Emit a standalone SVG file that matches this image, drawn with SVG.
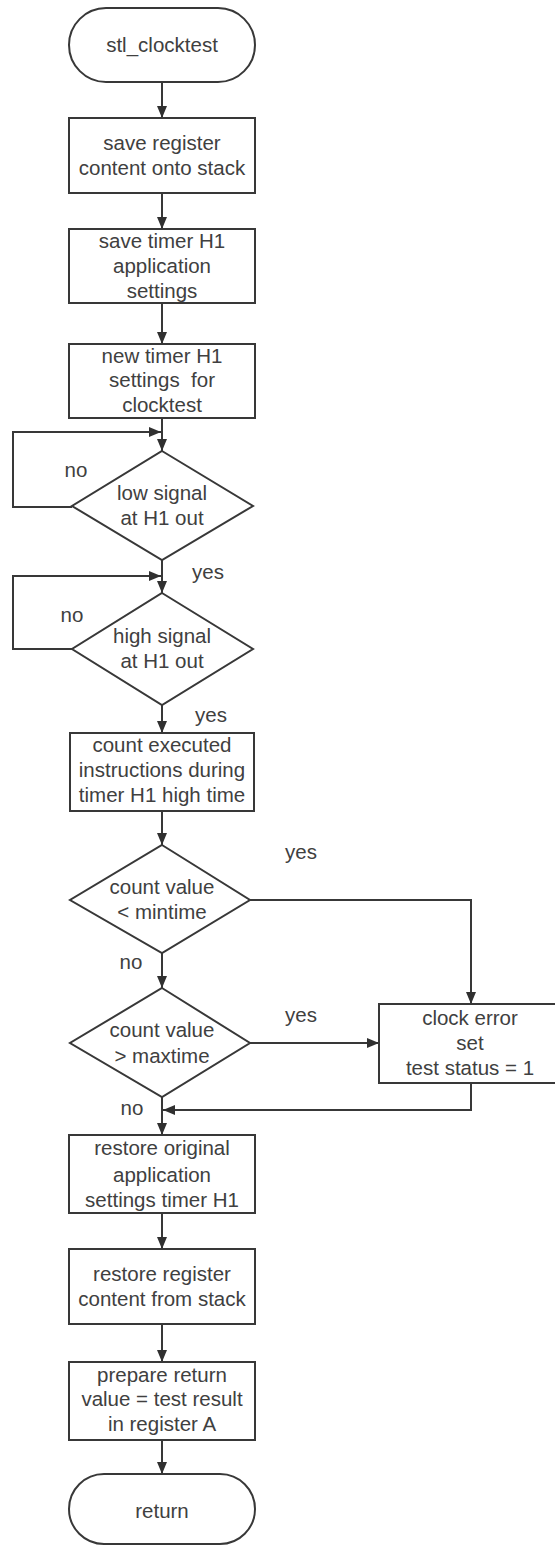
<svg xmlns="http://www.w3.org/2000/svg" width="555" height="1546" viewBox="0 0 555 1546">
<style>
.s{fill:#fff;stroke:#383838;stroke-width:2}
.c{fill:none;stroke:#383838;stroke-width:2}
text{font-family:"Liberation Sans",Arial,sans-serif;font-size:20.5px;fill:#404040;text-anchor:middle}
</style>
<defs>
<marker id="a" markerUnits="userSpaceOnUse" markerWidth="13" markerHeight="11" refX="12" refY="5" orient="auto">
<path d="M0,0 L12,5 L0,10 z" fill="#303030"/>
</marker>
</defs>
<rect width="555" height="1546" fill="#fff"/>
<g id="connectors">
<line class="c" x1="162" y1="82" x2="162" y2="118" marker-end="url(#a)"/>
<line class="c" x1="162" y1="193" x2="162" y2="229" marker-end="url(#a)"/>
<line class="c" x1="162" y1="303" x2="162" y2="344" marker-end="url(#a)"/>
<line class="c" x1="162" y1="418" x2="162" y2="451" marker-end="url(#a)"/>
<polyline class="c" points="72,507 13,507 13,432 161,432" marker-end="url(#a)"/>
<line class="c" x1="162" y1="560" x2="162" y2="593" marker-end="url(#a)"/>
<polyline class="c" points="72,649 13,649 13,576 161,576" marker-end="url(#a)"/>
<line class="c" x1="162" y1="705" x2="162" y2="733" marker-end="url(#a)"/>
<line class="c" x1="162" y1="811" x2="162" y2="845" marker-end="url(#a)"/>
<line class="c" x1="162" y1="953" x2="162" y2="988" marker-end="url(#a)"/>
<polyline class="c" points="250,900 471,900 471,1004" marker-end="url(#a)"/>
<line class="c" x1="250" y1="1043" x2="379" y2="1043" marker-end="url(#a)"/>
<polyline class="c" points="471,1083 471,1110 163,1110" marker-end="url(#a)"/>
<line class="c" x1="162" y1="1097" x2="162" y2="1135" marker-end="url(#a)"/>
<line class="c" x1="162" y1="1213" x2="162" y2="1249" marker-end="url(#a)"/>
<line class="c" x1="162" y1="1324" x2="162" y2="1362" marker-end="url(#a)"/>
<line class="c" x1="162" y1="1440" x2="162" y2="1474" marker-end="url(#a)"/>
</g>
<g id="start">
<rect class="s" x="69" y="8" width="186" height="74" rx="37"/>
<text x="162" y="52">stl_clocktest</text>
</g>
<g id="save-register">
<rect class="s" x="69" y="118" width="186" height="75"/>
<text x="162" y="150">save register</text>
<text x="162" y="175">content onto stack</text>
</g>
<g id="save-timer">
<rect class="s" x="69" y="229" width="186" height="74"/>
<text x="162" y="248">save timer H1</text>
<text x="162" y="273">application</text>
<text x="162" y="298">settings</text>
</g>
<g id="new-timer">
<rect class="s" x="69" y="344" width="186" height="74"/>
<text x="162" y="363">new timer H1</text>
<text x="162" y="387" xml:space="preserve">settings  for</text>
<text x="162" y="412">clocktest</text>
</g>
<g id="low-signal">
<polygon class="s" points="162,451 253,506 162,560 72,506"/>
<text x="162" y="500">low signal</text>
<text x="162" y="525">at H1 out</text>
</g>
<g id="high-signal">
<polygon class="s" points="162,593 253,649 162,705 72,649"/>
<text x="162" y="643">high signal</text>
<text x="162" y="668">at H1 out</text>
</g>
<g id="count-instr">
<rect class="s" x="70" y="733" width="184" height="78"/>
<text x="162" y="752">count executed</text>
<text x="162" y="777">instructions during</text>
<text x="162" y="802">timer H1 high time</text>
</g>
<g id="mintime">
<polygon class="s" points="162,845 250,900 162,953 70,900"/>
<text x="162" y="894">count value</text>
<text x="162" y="919">&lt; mintime</text>
</g>
<g id="maxtime">
<polygon class="s" points="162,988 250,1043 162,1097 70,1043"/>
<text x="162" y="1037">count value</text>
<text x="162" y="1063">&gt; maxtime</text>
</g>
<g id="clock-error">
<rect class="s" x="379" y="1004" width="184" height="79"/>
<text x="470" y="1025">clock error</text>
<text x="470" y="1050">set</text>
<text x="470" y="1075">test status = 1</text>
</g>
<g id="restore-settings">
<rect class="s" x="69" y="1135" width="186" height="78"/>
<text x="162" y="1155">restore original</text>
<text x="162" y="1182">application</text>
<text x="162" y="1207">settings timer H1</text>
</g>
<g id="restore-register">
<rect class="s" x="69" y="1249" width="186" height="75"/>
<text x="162" y="1281">restore register</text>
<text x="162" y="1306">content from stack</text>
</g>
<g id="prepare-return">
<rect class="s" x="69" y="1362" width="186" height="78"/>
<text x="162" y="1382">prepare return</text>
<text x="162" y="1406">value = test result</text>
<text x="162" y="1431">in register A</text>
</g>
<g id="return">
<rect class="s" x="69" y="1474" width="186" height="70" rx="35"/>
<text x="162" y="1518">return</text>
</g>
<g id="labels">
<text x="76" y="477">no</text>
<text x="208" y="579">yes</text>
<text x="72" y="622">no</text>
<text x="211" y="722">yes</text>
<text x="301" y="859">yes</text>
<text x="131" y="969">no</text>
<text x="301" y="1022">yes</text>
<text x="132" y="1115">no</text>
</g>
</svg>
